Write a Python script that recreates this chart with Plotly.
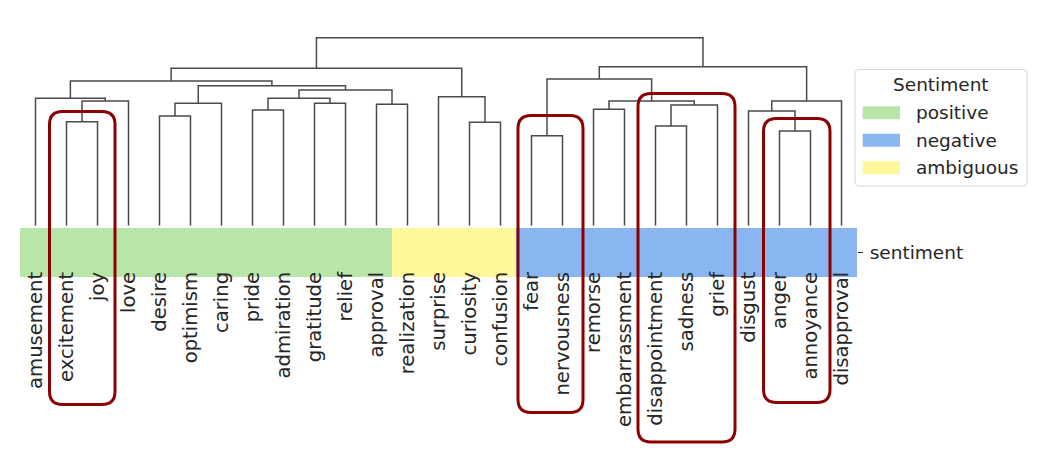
import plotly.graph_objects as go

# ---------------- data ----------------
categories = ["amusement", "excitement", "joy", "love", "desire", "optimism", "caring",
              "pride", "admiration", "gratitude", "relief", "approval", "realization",
              "surprise", "curiosity", "confusion", "fear", "nervousness", "remorse",
              "embarrassment", "disappointment", "sadness", "grief", "disgust", "anger",
              "annoyance", "disapproval"]
sentiment = ["positive"] * 12 + ["ambiguous"] * 4 + ["negative"] * 11

# hierarchical merges: (name, left, right, distance)
merges = [
    ("A", "excitement", "joy", 0.553),
    ("B", "A", "love", 0.663),
    ("C", "amusement", "B", 0.678),
    ("D", "desire", "optimism", 0.584),
    ("E", "D", "caring", 0.651),
    ("F", "pride", "admiration", 0.615),
    ("G", "gratitude", "relief", 0.651),
    ("H", "F", "G", 0.678),
    ("I", "approval", "realization", 0.646),
    ("J", "H", "I", 0.722),
    ("K", "E", "J", 0.745),
    ("L", "C", "K", 0.770),
    ("M", "curiosity", "confusion", 0.550),
    ("N", "surprise", "M", 0.686),
    ("O", "L", "N", 0.837),
    ("P", "fear", "nervousness", 0.479),
    ("Q", "remorse", "embarrassment", 0.619),
    ("R", "disappointment", "sadness", 0.530),
    ("S", "R", "grief", 0.642),
    ("T", "Q", "S", 0.663),
    ("U", "P", "T", 0.780),
    ("V", "anger", "annoyance", 0.504),
    ("W", "disgust", "V", 0.610),
    ("X", "W", "disapproval", 0.663),
    ("Y", "U", "X", 0.846),
    ("root", "O", "Y", 1.000),
]

sentiment_levels = ["positive", "negative", "ambiguous"]
highlight_groups = [["excitement", "joy"], ["fear", "nervousness"],
                    ["disappointment", "sadness", "grief"], ["anger", "annoyance"]]

# ---------------- styling / layout ----------------
OFF = 8                         # page body margin
W, H = 1055 - OFF, 461 - OFF
FONT = "DejaVu Sans"
FS = 18.5
XFS = 19.6
TXT = "#262626"
colors = {"positive": "#b8e6a8", "negative": "#89b6f0", "ambiguous": "#fff79a"}
X0_PX, X1_PX = 20, 857          # strip horizontal extent (screen px)
STRIP_TOP, STRIP_BOT = 228, 277
DEND_BOT, DEND_TOP = 225.7, 30
ROOT_PX = 37.7                  # screen y of root merge

def px(x):
    return (x - OFF) / W

def py(y):
    return 1 - (y - OFF) / H

n = len(categories)
xpos = {c: i + 0.5 for i, c in enumerate(categories)}
hgt = {c: 0.0 for c in categories}
seg_x, seg_y = [], []
for name, l, r, d in merges:
    xl, xr = xpos[l], xpos[r]
    seg_x += [xl, xl, xr, xr, None]
    seg_y += [hgt[l], d, d, hgt[r], None]
    xpos[name] = (xl + xr) / 2
    hgt[name] = d

root_d = merges[-1][3]
ymax = root_d * (DEND_BOT - DEND_TOP) / (DEND_BOT - ROOT_PX)

fig = go.Figure()

# dendrogram
fig.add_trace(go.Scatter(x=seg_x, y=seg_y, mode="lines", xaxis="x2", yaxis="y2",
                         line=dict(color="#4a4a4a", width=1.5), hoverinfo="skip",
                         showlegend=False))

# sentiment strip
code = {s: i for i, s in enumerate(sentiment_levels)}
z = [[code[s] for s in sentiment]]
cs = []
for i, s in enumerate(sentiment_levels):
    cs.append([i / len(sentiment_levels), colors[s]])
    cs.append([(i + 1) / len(sentiment_levels), colors[s]])
fig.add_trace(go.Heatmap(z=z, x=[i + 0.5 for i in range(n)], y=["sentiment"],
                         colorscale=cs, zmin=-0.5, zmax=len(sentiment_levels) - 0.5,
                         showscale=False, hoverinfo="skip"))

# faint cell borders
bx, by = [], []
for i in range(1, n):
    bx += [i, i, None]
    by += [-0.5, 0.5, None]
fig.add_trace(go.Scatter(x=bx, y=by, mode="lines", line=dict(color="rgba(255,255,255,0.45)", width=1),
                         hoverinfo="skip", showlegend=False))

shapes = []
annotations = []

# red highlight boxes (rounded)
cell = (X1_PX - X0_PX) / n
box_specs = [  # (top px, bottom px, left pad, right pad)
    (111.5, 404.5, 1.5, 2),
    (115.5, 412.5, -2, 5),
    (93.5, 442, 2, 2),
    (118.5, 402.5, 0.5, 4),
]
rad = 13
for grp, (top, bot, lp, rp) in zip(highlight_groups, box_specs):
    i0 = categories.index(grp[0])
    i1 = categories.index(grp[-1])
    xl = X0_PX + i0 * cell - lp
    xr = X0_PX + (i1 + 1) * cell + rp
    p = (f"M {px(xl+rad)},{py(top)} L {px(xr-rad)},{py(top)} "
         f"Q {px(xr)},{py(top)} {px(xr)},{py(top+rad)} "
         f"L {px(xr)},{py(bot-rad)} Q {px(xr)},{py(bot)} {px(xr-rad)},{py(bot)} "
         f"L {px(xl+rad)},{py(bot)} Q {px(xl)},{py(bot)} {px(xl)},{py(bot-rad)} "
         f"L {px(xl)},{py(top+rad)} Q {px(xl)},{py(top)} {px(xl+rad)},{py(top)} Z")
    shapes.append(dict(type="path", xref="paper", yref="paper", path=p,
                       line=dict(color="#8b0000", width=3), layer="above"))

# manual legend
lx0, lx1, ly0, ly1, lr = 855, 1027, 69.5, 186, 4
p = (f"M {px(lx0+lr)},{py(ly0)} L {px(lx1-lr)},{py(ly0)} Q {px(lx1)},{py(ly0)} {px(lx1)},{py(ly0+lr)} "
     f"L {px(lx1)},{py(ly1-lr)} Q {px(lx1)},{py(ly1)} {px(lx1-lr)},{py(ly1)} "
     f"L {px(lx0+lr)},{py(ly1)} Q {px(lx0)},{py(ly1)} {px(lx0)},{py(ly1-lr)} "
     f"L {px(lx0)},{py(ly0+lr)} Q {px(lx0)},{py(ly0)} {px(lx0+lr)},{py(ly0)} Z")
shapes.append(dict(type="path", xref="paper", yref="paper", path=p,
                   line=dict(color="#d6d6d6", width=1), fillcolor="white", layer="above"))
annotations.append(dict(xref="paper", yref="paper", x=px((lx0 + lx1) / 2), y=py(85),
                        text="Sentiment", showarrow=False, xanchor="center", yanchor="middle",
                        font=dict(family=FONT, size=FS, color=TXT)))
for k, s in enumerate(sentiment_levels):
    yc = 112.7 + k * 27.5
    shapes.append(dict(type="rect", xref="paper", yref="paper",
                       x0=px(862.7), x1=px(900), y0=py(yc - 6.5), y1=py(yc + 6.5),
                       fillcolor=colors[s], line=dict(width=0), layer="above"))
    annotations.append(dict(xref="paper", yref="paper", x=px(914), y=py(yc), text=s,
                            showarrow=False, xanchor="left", yanchor="middle",
                            font=dict(family=FONT, size=FS, color=TXT)))

fig.update_layout(
    width=W, height=H,
    margin=dict(l=0, r=0, t=0, b=0),
    paper_bgcolor="white", plot_bgcolor="white",
    font=dict(family=FONT, size=FS, color=TXT),
    shapes=shapes, annotations=annotations,
    showlegend=False,
    xaxis=dict(domain=[px(X0_PX), px(X1_PX)], range=[0, n], anchor="y",
               tickmode="array", tickvals=[i + 0.5 for i in range(n)], ticktext=categories,
               tickfont=dict(family=FONT, size=XFS, color=TXT),
               tickangle=-90, ticks="", showgrid=False, zeroline=False, showline=False,
               ticklabelstandoff=-10, fixedrange=True),
    yaxis=dict(domain=[py(STRIP_BOT), py(STRIP_TOP)], range=[-0.5, 0.5], anchor="x",
               side="right", ticks="outside", ticklen=5, tickwidth=1.2, tickcolor=TXT,
               tickfont=dict(family=FONT, size=FS, color=TXT),
               showgrid=False, zeroline=False, showline=False, ticklabelstandoff=3,
               fixedrange=True),
    xaxis2=dict(domain=[px(X0_PX), px(X1_PX)], range=[0, n], anchor="y2",
                visible=False, fixedrange=True),
    yaxis2=dict(domain=[py(DEND_BOT), py(DEND_TOP)], range=[0, ymax], anchor="x2",
                visible=False, fixedrange=True),
)

fig.write_html("out.html")
